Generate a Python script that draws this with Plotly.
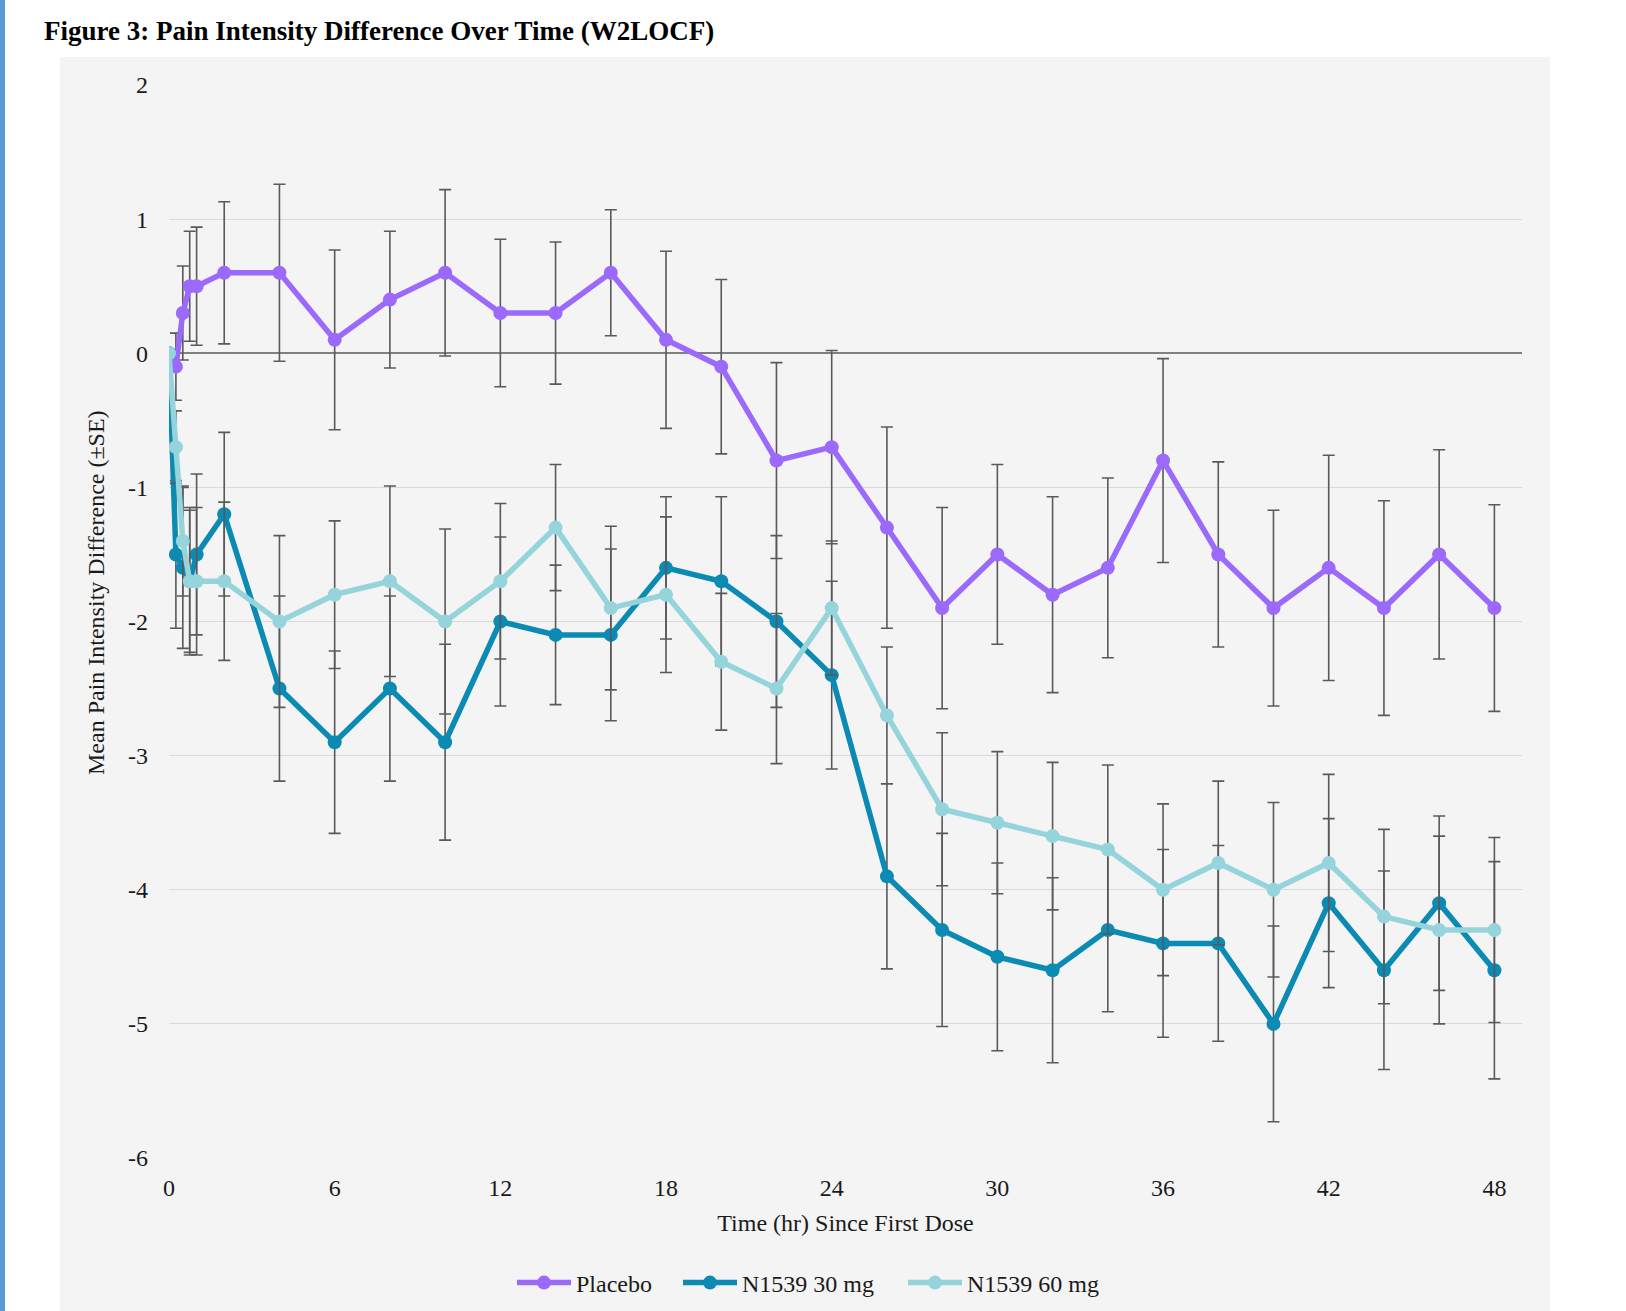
import plotly.graph_objects as go

# Time points (hours since first dose)
hours = [0, 0.25, 0.5, 0.75, 1, 2, 4, 6, 8, 10, 12, 14, 16, 18, 20, 22, 24,
         26, 28, 30, 32, 34, 36, 38, 40, 42, 44, 46, 48]

# Mean pain intensity difference per arm
placebo_mean = [0, -0.1, 0.3, 0.5, 0.5, 0.6, 0.6, 0.1, 0.4, 0.6, 0.3, 0.3, 0.6,
                0.1, -0.1, -0.8, -0.7, -1.3, -1.9, -1.5, -1.8, -1.6, -0.8, -1.5,
                -1.9, -1.6, -1.9, -1.5, -1.9]
dose30_mean = [0, -1.5, -1.6, -1.7, -1.5, -1.2, -2.5, -2.9, -2.5, -2.9, -2.0, -2.1,
               -2.1, -1.6, -1.7, -2.0, -2.4, -3.9, -4.3, -4.5, -4.6, -4.3, -4.4,
               -4.4, -5.0, -4.1, -4.6, -4.1, -4.6]
dose60_mean = [0, -0.7, -1.4, -1.7, -1.7, -1.7, -2.0, -1.8, -1.7, -2.0, -1.7, -1.3,
               -1.9, -1.8, -2.3, -2.5, -1.9, -2.7, -3.4, -3.5, -3.6, -3.7, -4.0,
               -3.8, -4.0, -3.8, -4.2, -4.3, -4.3]

# Standard errors
placebo_se = [0, 0.25, 0.35, 0.41, 0.44, 0.53, 0.66, 0.67, 0.51, 0.62, 0.55, 0.53,
              0.47, 0.66, 0.65, 0.73, 0.72, 0.75, 0.75, 0.67, 0.73, 0.67, 0.76,
              0.69, 0.73, 0.84, 0.80, 0.78, 0.77]
dose30_se = [0, 0.55, 0.60, 0.55, 0.60, 0.61, 0.69, 0.68, 0.69, 0.73, 0.63, 0.52,
             0.64, 0.53, 0.63, 0.64, 0.70, 0.69, 0.72, 0.70, 0.69, 0.61, 0.70,
             0.73, 0.73, 0.63, 0.74, 0.65, 0.81]
dose60_se = [0, 0.27, 0.41, 0.53, 0.55, 0.59, 0.64, 0.55, 0.71, 0.69, 0.58, 0.47,
             0.61, 0.58, 0.51, 0.56, 0.50, 0.51, 0.57, 0.53, 0.55, 0.63, 0.64,
             0.61, 0.65, 0.66, 0.65, 0.70, 0.69]

series_names = ["Placebo", "N1539 30 mg", "N1539 60 mg"]
series_colors = ["#9B69FC", "#0B8AB3", "#96D4DC"]

x_ticks = [0, 6, 12, 18, 24, 30, 36, 42, 48]
y_ticks = [2, 1, 0, -1, -2, -3, -4, -5, -6]

FONT = "Liberation Serif, Times New Roman, serif"
W, H = 1626, 1311
L, R, T, B = 169, 104, 85, 153
pw, ph = W - L - R, H - T - B


def px_x(p):
    return (p - L) / pw


def px_y(p):
    return (H - B - p) / ph


# one legend box per series so each entry can sit at its own spot
legend_ids = ["legend", "legend2", "legend3"]
legend_left_px = [512, 678, 903]

fig = go.Figure()
for name, color, mean, se, lg in zip(series_names, series_colors,
                                     [placebo_mean, dose30_mean, dose60_mean],
                                     [placebo_se, dose30_se, dose60_se],
                                     legend_ids):
    fig.add_trace(go.Scatter(
        x=hours, y=mean, name=name, mode="lines+markers", legend=lg,
        line=dict(color=color, width=5.5),
        marker=dict(color=color, size=14),
        error_y=dict(type="data", array=se, visible=True,
                     color="#595959", thickness=1.6, width=6),
    ))

legend_style = dict(orientation="h", xanchor="left", yanchor="middle",
                    y=px_y(1283), bgcolor="rgba(0,0,0,0)",
                    font=dict(family=FONT, size=24, color="#1a1a1a"),
                    itemwidth=54)

fig.update_layout(
    width=W, height=H,
    margin=dict(l=L, r=R, t=T, b=B, autoexpand=False),
    paper_bgcolor="white",
    plot_bgcolor="#F4F4F4",
    font=dict(family=FONT, size=24, color="#1a1a1a"),
    title=dict(text="<b>Figure 3: Pain Intensity Difference Over Time (W2LOCF)</b>",
               x=44 / W, xanchor="left", xref="container",
               y=1 - 31 / H, yanchor="middle", yref="container",
               font=dict(family=FONT, size=27, color="black")),
    showlegend=True,
    legend=dict(x=px_x(legend_left_px[0]), **legend_style),
    legend2=dict(x=px_x(legend_left_px[1]), **legend_style),
    legend3=dict(x=px_x(legend_left_px[2]), **legend_style),
    annotations=[
        dict(text="Mean Pain Intensity Difference (±SE)", textangle=-90,
             xref="paper", yref="paper", x=px_x(96), y=px_y(593),
             xanchor="center", yanchor="middle", showarrow=False,
             font=dict(family=FONT, size=24, color="#1a1a1a")),
    ],
    shapes=[
        # chart area panel
        dict(type="rect", xref="paper", yref="paper", layer="below",
             x0=px_x(60), x1=px_x(1550), y0=px_y(H + 5), y1=px_y(57),
             fillcolor="#F4F4F4", line=dict(width=0)),
        # page accent stripe
        dict(type="rect", xref="paper", yref="paper", layer="below",
             x0=px_x(0), x1=px_x(5), y0=px_y(H + 5), y1=px_y(-5),
             fillcolor="#5B9BD5", line=dict(width=0)),
    ],
)

fig.update_xaxes(
    range=[0, 49], tickvals=x_ticks, ticktext=[str(v) for v in x_ticks],
    showgrid=False, zeroline=False, showline=False, ticks="",
    ticklabelstandoff=13,
    tickfont=dict(size=24),
    title=dict(text="Time (hr) Since First Dose", font=dict(size=24), standoff=14),
)
fig.update_yaxes(
    range=[-6, 2], tickvals=y_ticks, ticktext=[str(v) for v in y_ticks],
    showgrid=True, gridcolor="#D9D9D9", gridwidth=1.3,
    zeroline=True, zerolinecolor="#808080", zerolinewidth=1.6,
    showline=False, ticks="", ticklabelstandoff=20,
    tickfont=dict(size=24),
)

fig.write_html("out.html")
